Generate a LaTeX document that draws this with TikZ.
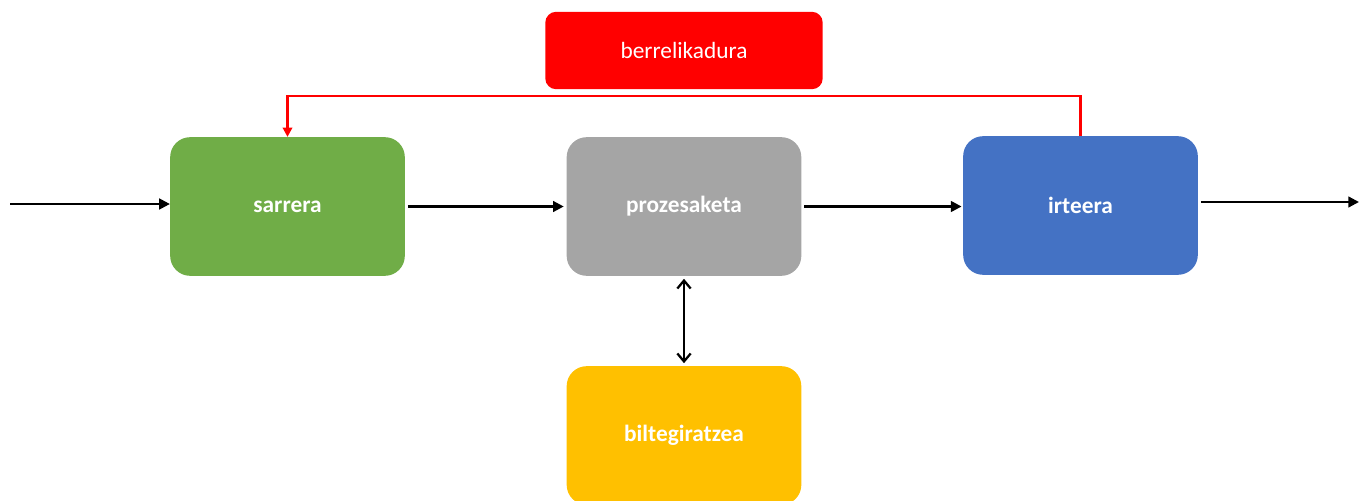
\documentclass[tikz,border=0pt]{standalone}
\usepackage{fontspec}
\setmainfont{Carlito}
\usetikzlibrary{arrows.meta}
\definecolor{fbred}{HTML}{FF0000}
\definecolor{ingreen}{HTML}{70AD47}
\definecolor{procgrey}{HTML}{A5A5A5}
\definecolor{outblue}{HTML}{4472C4}
\definecolor{storeyellow}{HTML}{FFC000}
\begin{document}
\begin{tikzpicture}[x=0.75pt,y=-0.75pt,
  stage/.style={rounded corners=15pt,minimum width=176pt,minimum height=104pt,
    inner sep=0pt,text=white,font=\fontsize{17.5}{21}\selectfont\bfseries},
  loopbox/.style={rounded corners=8pt,minimum width=208pt,minimum height=58pt,
    inner sep=0pt,fill=fbred,text=white,font=\fontsize{17.5}{21}\selectfont},
  flow/.style={draw=black,line width=1.7pt,-{Triangle[length=8pt,width=8pt]}},
  both/.style={draw=black,line width=1.7pt,{Straight Barb[length=6pt,width=10pt]}-{Straight Barb[length=6pt,width=10pt]}},
  loop/.style={draw=fbred,line width=1.8pt,-{Triangle[length=7pt,width=7pt]}}]
\useasboundingbox (0,0) rectangle (1364,500);
\clip (0,0) rectangle (1364,500);
% processing stages
\node[stage,fill=ingreen] (in) at (287.5,206.5) {sarrera};
\node[stage,fill=procgrey] (proc) at (684,206.5) {prozesaketa};
\node[stage,fill=outblue] (out) at (1080.5,205.5) {irteera};
\node[stage,fill=storeyellow] (store) at (684,435.5) {biltegiratzea};
\node[loopbox] (fb) at (684,50.5) {berrelikadura};
% open ends of the main flow
\coordinate (src) at (10,204);
\coordinate (dst) at (1359,202);
% main flow
\draw[flow] (src) -- (in.west |- src);
\draw[flow] ([xshift=2pt]in.east) -- ([xshift=-2pt]proc.west);
\draw[flow] ([xshift=2pt]proc.east) -- ([xshift=-1pt]out.west |- proc.east);
\draw[flow] ([xshift=2pt]out.east |- dst) -- (dst);
% storage exchange
\draw[both] ([yshift=-2pt]proc.south) -- ([yshift=2pt]store.north);
% feedback loop
\draw[loop] (out.north) -- ++(0,-40) -| (in.north);
\end{tikzpicture}
\end{document}
